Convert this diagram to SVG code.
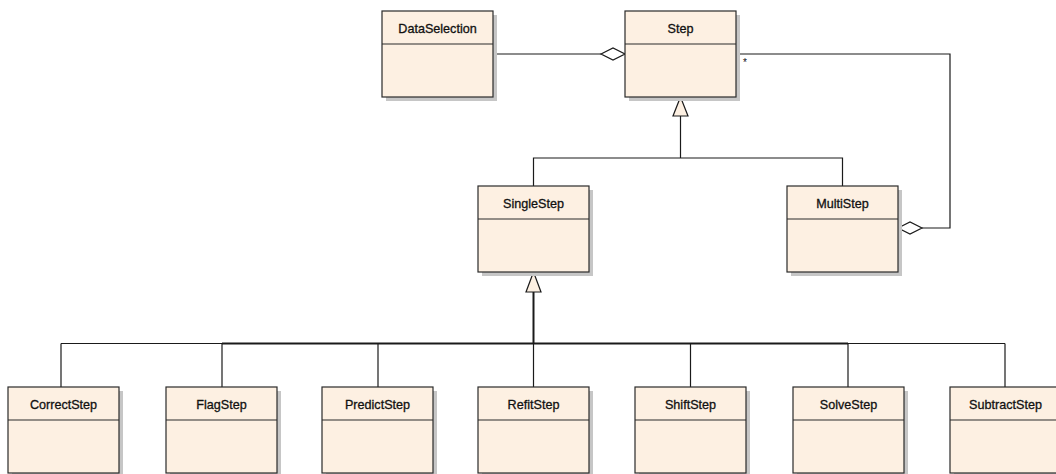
<svg xmlns="http://www.w3.org/2000/svg" width="1056" height="474" viewBox="0 0 1056 474">
  <style>
    .shadow { fill: #c6c6c6; }
    .box { fill: #fdf0e2; stroke: #2a2a2a; stroke-width: 1.2; }
    .div { stroke: #2a2a2a; stroke-width: 1.2; }
    .name { font-family: "Liberation Sans", Arial, sans-serif; font-size: 12.6px; fill: #111; stroke: #111; stroke-width: 0.3; text-anchor: middle; }
    .wire { fill: none; stroke: #1a1a1a; stroke-width: 1.2; }
    .thick { fill: none; stroke: #1a1a1a; stroke-width: 2; }
    .diamond { fill: #ffffff; stroke: #1a1a1a; stroke-width: 1.2; }
    .tri { fill: #fdf0e2; stroke: #1a1a1a; stroke-width: 1.2; }
    .mult { font-family: "Liberation Sans", Arial, sans-serif; font-size: 10px; fill: #111; }
  </style>
  <defs>
    <!-- class box: shadow, body, name compartment divider -->
    <g id="cls">
      <rect class="shadow" x="4" y="4" width="111" height="86"/>
      <rect class="box" x="0" y="0" width="111" height="86"/>
      <line class="div" x1="0" y1="33" x2="111" y2="33"/>
    </g>
  </defs>

  <g id="connectors">
    <!-- DataSelection aggregated by Step -->
    <line class="wire" x1="493" y1="54" x2="601" y2="54"/>
    <polygon class="diamond" points="601,54 613,48 625,54 613,60"/>
    <!-- Step * aggregated by MultiStep -->
    <polyline class="wire" points="736,54 950,54 950,228 922,228"/>
    <polygon class="diamond" points="898,228 910,222 922,228 910,234"/>
    <text class="mult" x="743" y="66">*</text>
    <!-- generalization to Step -->
    <line class="wire" x1="680.5" y1="116" x2="680.5" y2="158"/>
    <polyline class="wire" points="533.5,186 533.5,158 842.5,158 842.5,186"/>
    <polygon class="tri" points="680.5,97 688,116 673,116"/>
    <!-- generalization to SingleStep -->
    <line class="thick" x1="533.5" y1="292" x2="533.5" y2="343.5"/>
    <line class="wire" x1="61" y1="343.5" x2="1005" y2="343.5"/>
    <line class="thick" x1="222" y1="343.5" x2="848" y2="343.5"/>
    <line class="wire" x1="61" y1="343.5" x2="61" y2="387"/>
    <line class="wire" x1="222" y1="343.5" x2="222" y2="387"/>
    <line class="wire" x1="378" y1="343.5" x2="378" y2="387"/>
    <line class="wire" x1="533.5" y1="343.5" x2="533.5" y2="387"/>
    <line class="wire" x1="690.5" y1="343.5" x2="690.5" y2="387"/>
    <line class="wire" x1="848" y1="343.5" x2="848" y2="387"/>
    <line class="wire" x1="1005" y1="343.5" x2="1005" y2="387"/>
    <polygon class="tri" points="533.5,272 541,292 526,292"/>
  </g>

  <g id="DataSelection" transform="translate(382,11)">
    <use href="#cls"/>
    <text class="name" x="55.5" y="21.5">DataSelection</text>
  </g>
  <g id="Step" transform="translate(625,11)">
    <use href="#cls"/>
    <text class="name" x="55.5" y="21.5">Step</text>
  </g>
  <g id="SingleStep" transform="translate(478,186)">
    <use href="#cls"/>
    <text class="name" x="55.5" y="21.5">SingleStep</text>
  </g>
  <g id="MultiStep" transform="translate(787,186)">
    <use href="#cls"/>
    <text class="name" x="55.5" y="21.5">MultiStep</text>
  </g>
  <g id="CorrectStep" transform="translate(8,387)">
    <use href="#cls"/>
    <text class="name" x="55.5" y="21.5">CorrectStep</text>
  </g>
  <g id="FlagStep" transform="translate(166,387)">
    <use href="#cls"/>
    <text class="name" x="55.5" y="21.5">FlagStep</text>
  </g>
  <g id="PredictStep" transform="translate(322,387)">
    <use href="#cls"/>
    <text class="name" x="55.5" y="21.5">PredictStep</text>
  </g>
  <g id="RefitStep" transform="translate(478,387)">
    <use href="#cls"/>
    <text class="name" x="55.5" y="21.5">RefitStep</text>
  </g>
  <g id="ShiftStep" transform="translate(635,387)">
    <use href="#cls"/>
    <text class="name" x="55.5" y="21.5">ShiftStep</text>
  </g>
  <g id="SolveStep" transform="translate(793,387)">
    <use href="#cls"/>
    <text class="name" x="55.5" y="21.5">SolveStep</text>
  </g>
  <g id="SubtractStep" transform="translate(950,387)">
    <use href="#cls"/>
    <text class="name" x="55.5" y="21.5">SubtractStep</text>
  </g>
</svg>
